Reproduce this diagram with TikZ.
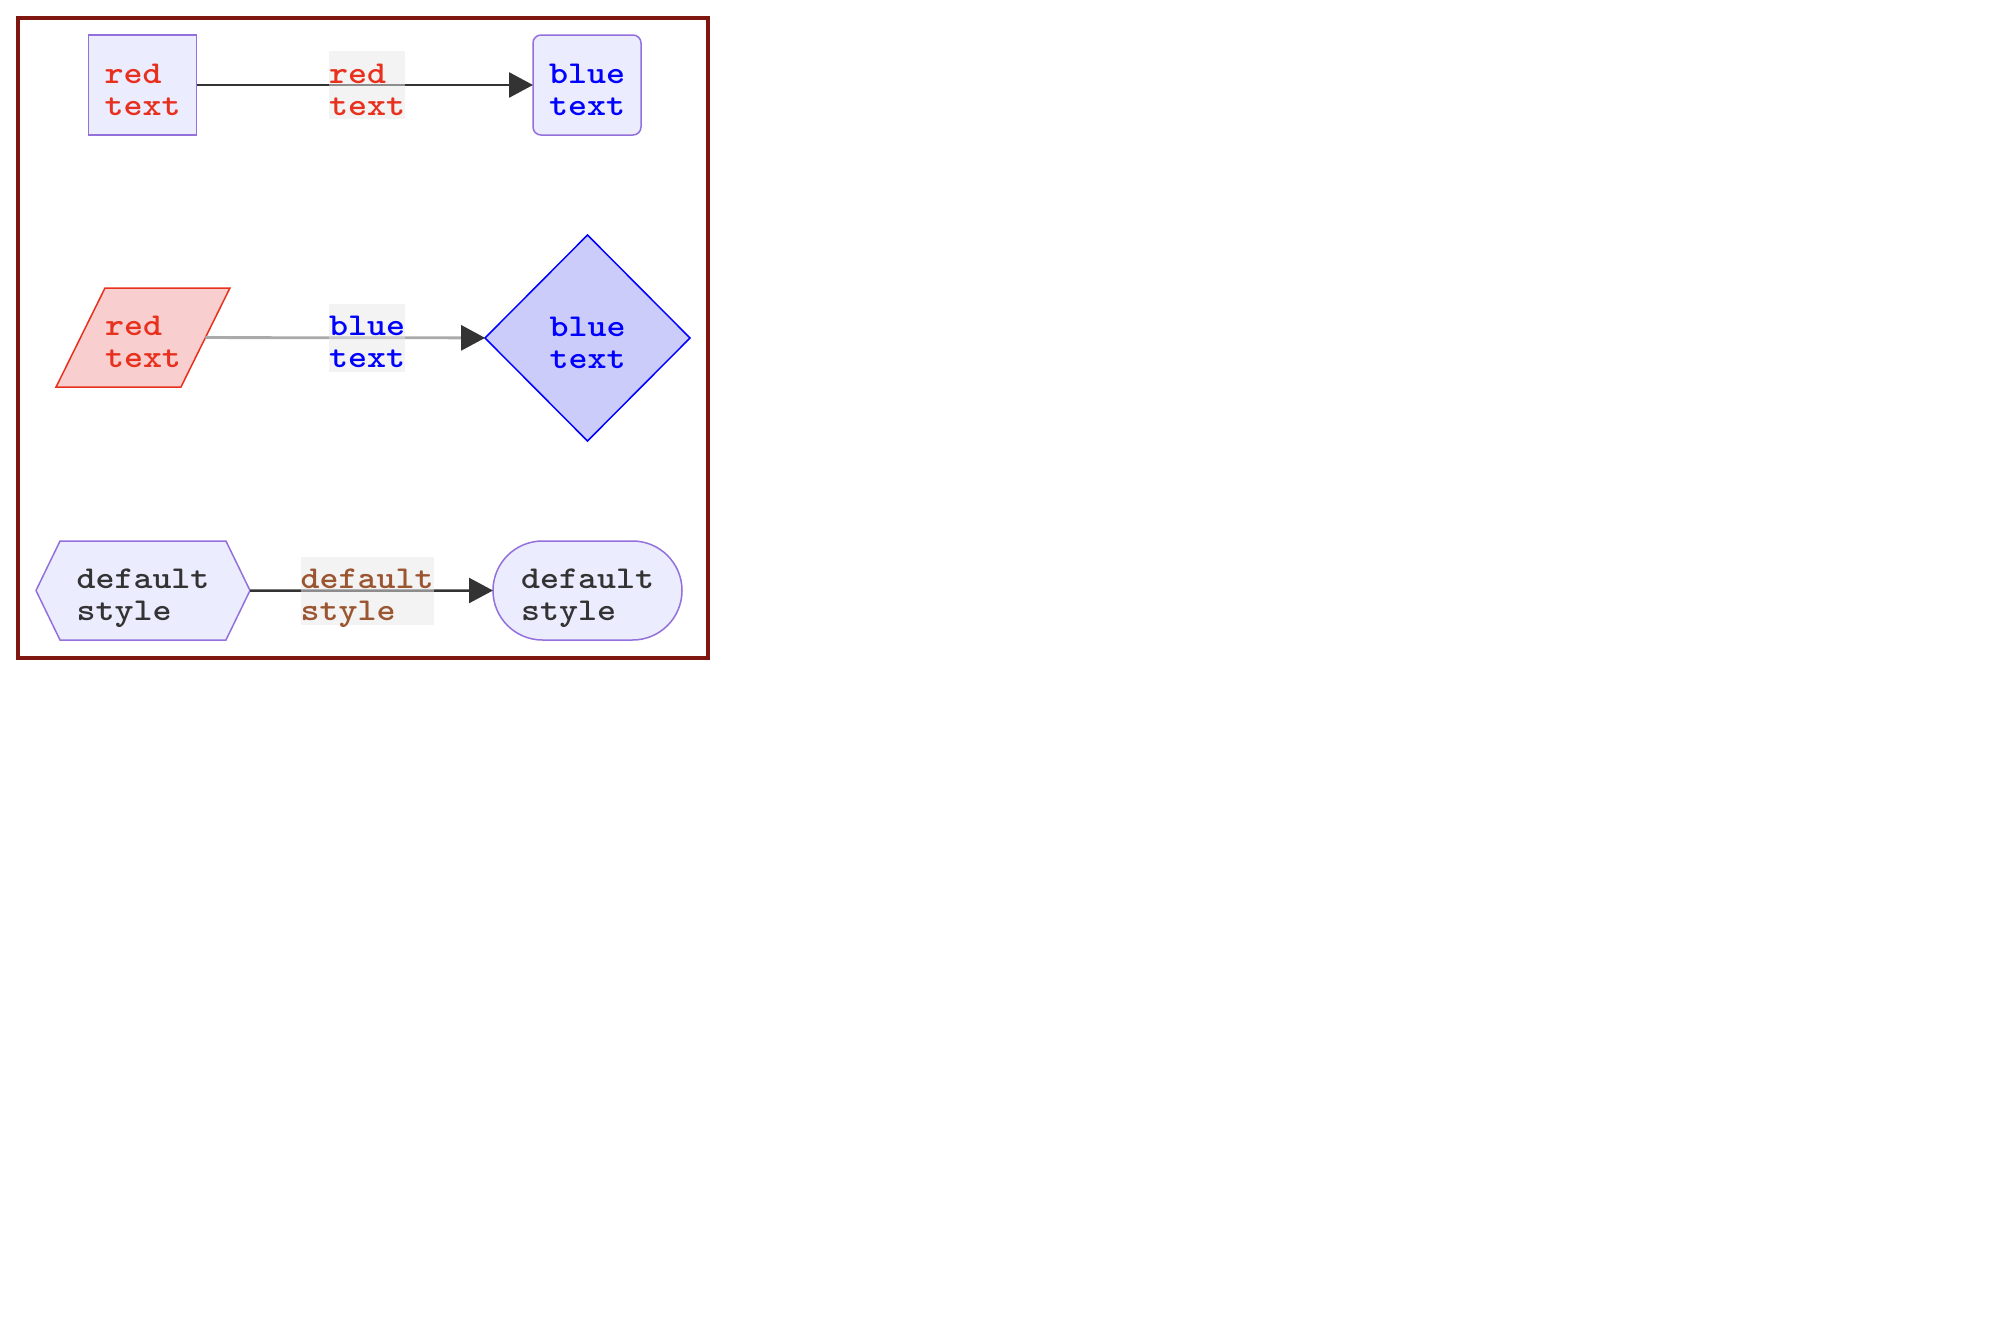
\documentclass[tikz,border=0pt]{standalone}
\usepackage{fontspec}
\usepackage{graphicx}
\usetikzlibrary{arrows.meta,shapes.geometric,shapes.symbols}
\definecolor{nodefill}{HTML}{ECECFF}
\definecolor{nodeline}{HTML}{9370DB}
\definecolor{redtxt}{RGB}{232,48,30}
\definecolor{bluetxt}{HTML}{0000FF}
\definecolor{pinkfill}{RGB}{248,206,206}
\definecolor{bluefill}{RGB}{204,204,250}
\definecolor{darktxt}{HTML}{333333}
\definecolor{browntxt}{RGB}{155,85,48}
\definecolor{framecol}{RGB}{128,22,16}
\definecolor{edgedark}{HTML}{333333}
\definecolor{edgegray}{HTML}{AAAAAA}
\definecolor{labelbg}{RGB}{232,232,232}
\newcommand{\twolines}[2]{\vtop{\baselineskip=32pt\hbox{\scalebox{1.138}[1]{#1}}\hbox{\scalebox{1.138}[1]{#2}}}}
\begin{document}
\begin{tikzpicture}[x=1pt,y=-1pt,
  txt/.style={font=\ttfamily\bfseries\fontsize{31.8}{32}\selectfont, text height=32pt, text depth=36pt, inner sep=0pt, outer sep=0pt},
  shapebase/.style={txt, line width=1.5pt},
  plainnode/.style={shapebase, draw=nodeline, fill=nodefill},
  conn/.style={line width=2.8pt, draw=edgedark, -{Triangle[length=24pt,width=25pt]}},
  edgelabel/.style={txt, fill=labelbg, fill opacity=0.5, text opacity=1},
]
\fill[white] (0,0) rectangle (2000,1320);
\useasboundingbox (0,0) rectangle (2000,1320);
\draw[framecol, line width=4pt] (18,18) rectangle (708,657.5);

\node[plainnode, minimum width=108pt, minimum height=100pt, text=redtxt] (a) at (142.7,85) {\twolines{red}{text}};
\node[plainnode, rounded corners=8pt, minimum width=108pt, minimum height=100pt, text=bluetxt] (b) at (587,85) {\twolines{blue}{text}};
\node[shapebase, trapezium, trapezium left angle=63.7, trapezium right angle=116.3, inner ysep=15.5pt, draw=redtxt, fill=pinkfill, text=redtxt] (c) at (143,337.5) {\twolines{red}{text}};
\node[shapebase, diamond, minimum width=205pt, minimum height=206pt, draw=bluetxt, fill=bluefill, text=bluetxt] (d) at (587.5,338) {\twolines{blue}{text}};
\node[shapebase, signal, signal to=east and west, signal pointer angle=128.2, minimum width=214pt, minimum height=99pt, draw=nodeline, fill=nodefill, text=darktxt] (e) at (143,590.5) {\twolines{default}{style}};
\node[plainnode, rounded corners=49.5pt, minimum width=189pt, minimum height=99pt, text=darktxt] (f) at (587.5,590.5) {\twolines{default}{style}};

\draw[conn] (a) -- (b);
\draw[conn, draw=edgegray, -{Triangle[length=24pt,width=25pt,color=edgedark]}] (c) -- (d);
\draw[conn, line width=2.5pt] (e) -- (f);

\node[edgelabel, text=redtxt] (la) at (367,85) {\twolines{red}{text}};
\node[edgelabel, text=bluetxt] (lb) at (367,337.5) {\twolines{blue}{text}};
\node[edgelabel, text=browntxt] (lc) at (367,590.5) {\twolines{default}{style}};
\end{tikzpicture}
\end{document}
